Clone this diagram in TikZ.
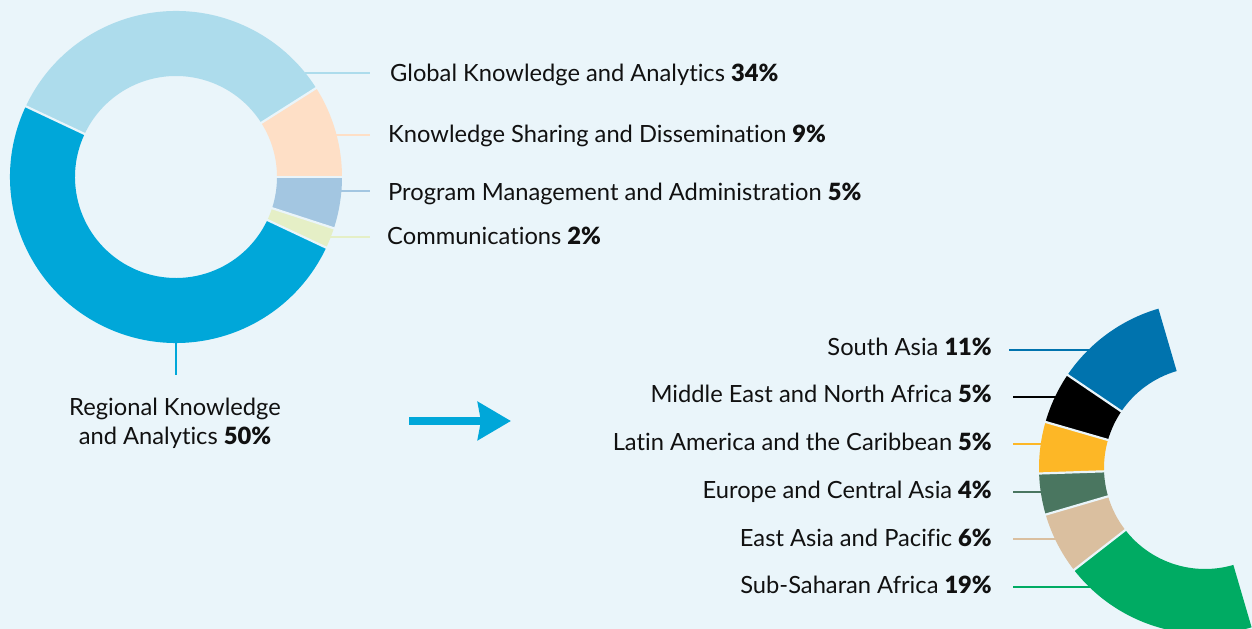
\documentclass[tikz,border=0pt]{standalone}
\usepackage{fontspec}
\setmainfont{Lato}[Ligatures=NoCommon, BoldFont={Lato Black}]
\usetikzlibrary{arrows.meta,calc}
\definecolor{bg}{HTML}{EAF5FA}
\definecolor{txt}{HTML}{111111}
\definecolor{creg}{HTML}{00A7D9}
\definecolor{cglob}{HTML}{ADDCEC}
\definecolor{cshare}{HTML}{FEDFC6}
\definecolor{cprog}{HTML}{A3C6E1}
\definecolor{ccomm}{HTML}{E5EFC6}
\definecolor{csa}{HTML}{0073AE}
\definecolor{cme}{HTML}{000000}
\definecolor{clac}{HTML}{FDB726}
\definecolor{ceca}{HTML}{4A7660}
\definecolor{ceap}{HTML}{DABF9F}
\definecolor{cssa}{HTML}{00AB63}
\newcommand\ringseg[4]{% center, a1, a2, color
  \fill[#4] ($(#1)+(#2:166)$) arc[start angle=#2, end angle=#3, radius=166]
    -- ($(#1)+(#3:101)$) arc[start angle=#3, end angle=#2, radius=101] -- cycle;}
\newcommand\ringgap[2]{\draw[gapline] ($(#1)+(#2:99)$) -- ($(#1)+(#2:168)$);}
\tikzset{
  lbl/.style={font=\fontsize{23.7bp}{28.3bp}\selectfont, inner sep=0pt, text=txt},
  leader/.style={line width=2bp},
  gapline/.style={draw=bg, line width=2.2bp},
}
\begin{document}
\begin{tikzpicture}[x=1bp,y=1bp]
\fill[bg] (0,0) rectangle (1252,629);
\useasboundingbox (0,0) rectangle (1252,629);
\clip (0,0) rectangle (1252,629);
% ---------- left donut ----------
\coordinate (L) at (176,452);
\draw[leader,cglob]  (305,556.3) coordinate (g1) -- (370,556.3) coordinate (g2);
\draw[leader,cshare] (334,494.3) coordinate (s1) -- (370,494.3) coordinate (s2);
\draw[leader,cprog]  (339,438) coordinate (p1) -- (370,438) coordinate (p2);
\draw[leader,ccomm]  (328,392) coordinate (c1) -- (370,392) coordinate (c2);
\draw[leader,creg]   (176,288) coordinate (r1) -- (176,254) coordinate (r2);
\ringseg{L}{0}{-18}{cprog}
\ringseg{L}{-18}{-25.2}{ccomm}
\ringseg{L}{-25.2}{-205.2}{creg}
\ringseg{L}{154.8}{32.4}{cglob}
\ringseg{L}{32.4}{0}{cshare}
\ringgap{L}{0}\ringgap{L}{-18}\ringgap{L}{-25.2}\ringgap{L}{154.8}\ringgap{L}{32.4}
\node[lbl,anchor=base west] (glob) at (390,547.5) {Global Knowledge and Analytics \textbf{34\%}};
\node[lbl,anchor=base west] (share) at (388,486.5) {Knowledge Sharing and Dissemination \textbf{9\%}};
\node[lbl,anchor=base west] (prog) at (388,428.3) {Program Management and Administration \textbf{5\%}};
\node[lbl,anchor=base west] (comm) at (387,384.5) {Communications \textbf{2\%}};
\node[lbl,anchor=base,align=center] (reg) at (175,184.7) {Regional Knowledge\\and Analytics \textbf{50\%}};
% ---------- arrow ----------
\coordinate (a1) at (409,208);
\coordinate (a2) at (511,208);
\draw[creg, line width=8bp, -{Stealth[length=33bp,width=37.5bp,inset=3bp]}] (a1) -- (a2);
% ---------- right half donut ----------
\coordinate (R) at (1205,161);
\draw[leader,csa]  (1009,279)   coordinate (sa1)  -- (1092,279)   coordinate (sa2);
\draw[leader,cme]  (1013,232.3) coordinate (me1)  -- (1060,232.3) coordinate (me2);
\draw[leader,clac] (1013,184.7) coordinate (lac1) -- (1045,184.7) coordinate (lac2);
\draw[leader,ceca] (1013,136.7) coordinate (eca1) -- (1045,136.7) coordinate (eca2);
\draw[leader,ceap] (1013,90)    coordinate (eap1) -- (1060,90)    coordinate (eap2);
\draw[leader,cssa] (1013,41.7)  coordinate (ssa1) -- (1094,41.7)  coordinate (ssa2);
\ringseg{R}{106.3}{145.9}{csa}
\ringseg{R}{145.9}{163.9}{cme}
\ringseg{R}{163.9}{181.9}{clac}
\ringseg{R}{181.9}{196.3}{ceca}
\ringseg{R}{196.3}{217.9}{ceap}
\ringseg{R}{217.9}{286.3}{cssa}
\ringgap{R}{145.9}\ringgap{R}{163.9}\ringgap{R}{181.9}\ringgap{R}{196.3}\ringgap{R}{217.9}
\node[lbl,anchor=base east] (sa)  at (992,273.3) {South Asia \textbf{11\%}};
\node[lbl,anchor=base east] (me)  at (992,226.7) {Middle East and North Africa \textbf{5\%}};
\node[lbl,anchor=base east] (lac) at (992,178.3) {Latin America and the Caribbean \textbf{5\%}};
\node[lbl,anchor=base east] (eca) at (992,130)   {Europe and Central Asia \textbf{4\%}};
\node[lbl,anchor=base east] (eap) at (992,82.3)  {East Asia and Pacific \textbf{6\%}};
\node[lbl,anchor=base east] (ssa) at (992,35)    {Sub-Saharan Africa \textbf{19\%}};
\end{tikzpicture}
\end{document}
